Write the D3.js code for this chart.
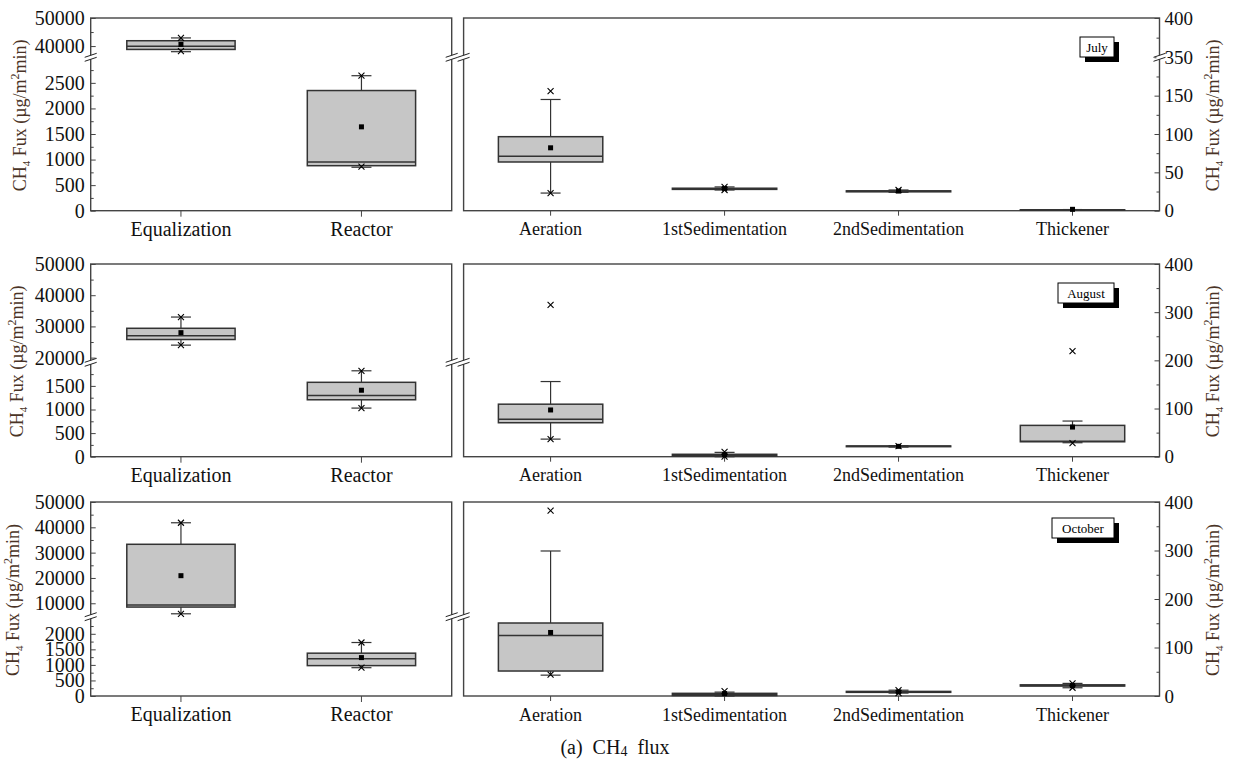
<!DOCTYPE html>
<html>
<head>
<meta charset="utf-8">
<script src="https://cdn.jsdelivr.net/npm/d3@7"></script>
<style>
  body { margin: 0; background: #fff; }
  svg { display: block; }
</style>
</head>
<body>
<script>
// categories
const months = ["July", "August", "October"];
const leftCats = ["Equalization", "Reactor"];
const rightCats = ["Aeration", "1stSedimentation", "2ndSedimentation", "Thickener"];

// box stats per category: [whisker low, q1, median, q3, whisker high, mean]
const julyLeft = [
  [38000, 38800, 39900, 41900, 42900, 40600],
  [850, 880, 950, 2350, 2640, 1640]
];
const julyRight = [
  [23, 63.5, 71, 96.5, 145, 82],
  [27, 27.8, 28.5, 29.3, 31, 29],
  [24, 24.6, 25.2, 25.9, 27, 25.6],
  [0.5, 0.8, 1, 1.2, 1.5, 1.8]
];
const augLeft = [
  [24000, 25800, 27000, 29400, 33000, 28000],
  [1030, 1206, 1296, 1576, 1820, 1408]
];
const augRight = [
  [36.5, 70.5, 77.5, 109, 156, 97],
  [0, 1, 3, 5, 9, 4],
  [20, 20.8, 21.5, 22.3, 23, 21.5],
  [29, 31, 32, 65, 74, 61.5]
];
const octLeft = [
  [5850, 8500, 9300, 33300, 41800, 20900],
  [910, 977, 1194, 1377, 1720, 1235]
];
const octRight = [
  [43, 51.5, 125, 150.5, 299, 131],
  [0, 1, 3, 5.5, 8, 5],
  [6, 7.5, 8.5, 9.5, 12, 8.5],
  [17, 20.5, 21.5, 23, 26, 21.5]
];

// x markers (1% / 99%)
const julyLeftX = [[42900, 38200], [2640, 860]];
const julyRightX = [[156, 23], [31, 27], [27], []];
const augLeftX = [[33000, 24000], [1820, 1030]];
const augRightX = [[315, 36.5], [10, 0], [22], [219, 28]];
const octLeftX = [[41800, 5850], [1720, 910]];
const octRightX = [[382, 44], [10], [12, 6], [26, 17]];

// broken axis domains
const julyLeftDomain = [0, 3000, 36000, 50000];
const augLeftDomain = [0, 2000, 18500, 50000];
const octLeftDomain = [0, 2550, 4700, 50000];
const julyRightDomain = [0, 200, 350, 400];
const augRightDomain = [0, 400];
const octRightDomain = [0, 400];

// tick values
const julyLeftTicks = [0, 500, 1000, 1500, 2000, 2500, 40000, 50000];
const julyLeftMinor = [250, 750, 1250, 1750, 2250, 2750, 45000];
const augLeftTicks = [0, 500, 1000, 1500, 20000, 30000, 40000, 50000];
const augLeftMinor = [250, 750, 1250, 1750, 25000, 35000, 45000];
const octLeftTicks = [0, 500, 1000, 1500, 2000, 10000, 20000, 30000, 40000, 50000];
const octLeftMinor = [250, 750, 1250, 1750, 2250, 15000, 25000, 35000, 45000];
const julyRightTicks = [0, 50, 100, 150, 350, 400];
const julyRightMinor = [25, 75, 125, 175, 375];
const augRightTicks = [0, 100, 200, 300, 400];
const augRightMinor = [50, 150, 250, 350];
const octRightTicks = [0, 100, 200, 300, 400];
const octRightMinor = [50, 150, 250, 350];

const W = 1240, H = 764;
const FRAME = "#444";
const TITLE_COLOR = "#4a3326";
const SERIF = "'Liberation Serif', 'Times New Roman', serif";

const svg = d3.select("body").append("svg")
  .attr("width", W)
  .attr("height", H)
  .style("font-family", SERIF);

// panel geometry
const leftX = [90.7, 451.7];
const rightX = [463.6, 1159.5];
const rows = [
  { top: 18, bottom: 210.7, brk: 57.3, labelTop: 37, rightBreak: true, titleX: 26 },
  { top: 264, bottom: 456.7, brk: 362.3, labelTop: 283, rightBreak: false, titleX: 23 },
  { top: 502, bottom: 696, brk: 616.7, labelTop: 518, rightBreak: false, titleX: 19 }
];
const labelW = { July: 34, August: 56, October: 62 };

const rowData = [
  { left: julyLeft, right: julyRight, lx: julyLeftX, rx: julyRightX,
    ld: julyLeftDomain, rd: julyRightDomain,
    lt: julyLeftTicks, lm: julyLeftMinor, rt: julyRightTicks, rm: julyRightMinor },
  { left: augLeft, right: augRight, lx: augLeftX, rx: augRightX,
    ld: augLeftDomain, rd: augRightDomain,
    lt: augLeftTicks, lm: augLeftMinor, rt: augRightTicks, rm: augRightMinor },
  { left: octLeft, right: octRight, lx: octLeftX, rx: octRightX,
    ld: octLeftDomain, rd: octRightDomain,
    lt: octLeftTicks, lm: octLeftMinor, rt: octRightTicks, rm: octRightMinor }
];

function brokenScale(domain, r) {
  if (domain.length === 2) {
    return d3.scaleLinear().domain(domain).range([r.bottom, r.top]);
  }
  return d3.scaleLinear().domain(domain).range([r.bottom, r.brk, r.brk, r.top]);
}

// tidy up an axis group: serif text, gray ticks, no domain path
function styleAxis(a, size) {
  a.attr("font-family", null).attr("font-size", null);
  a.select(".domain").remove();
  a.selectAll("line").attr("stroke", FRAME);
  a.selectAll("text").style("font-size", size).attr("fill", "#111");
}

function breakMark(g, x, y) {
  g.append("rect")
    .attr("x", x - 3).attr("y", y - 2)
    .attr("width", 6).attr("height", 4)
    .attr("fill", "#fff");
  [-2, 2].forEach(off => {
    g.append("line")
      .attr("x1", x - 6).attr("y1", y + off + 2)
      .attr("x2", x + 6).attr("y2", y + off - 2)
      .attr("stroke", "#222").attr("stroke-width", 1);
  });
}

function drawBoxes(g, x, y, stats, crosses) {
  const bw = x.bandwidth() * 0.6;
  const capW = 20;
  stats.forEach((s, i) => {
    const cx = x(x.domain()[i]) + x.bandwidth() / 2;
    const [lo, q1, med, q3, hi, mean] = s;
    const b = g.append("g");
    // whiskers
    b.append("line")
      .attr("x1", cx).attr("x2", cx)
      .attr("y1", y(hi)).attr("y2", y(q3))
      .attr("stroke", "#333").attr("stroke-width", 1.2);
    b.append("line")
      .attr("x1", cx).attr("x2", cx)
      .attr("y1", y(q1)).attr("y2", y(lo))
      .attr("stroke", "#333").attr("stroke-width", 1.2);
    [lo, hi].forEach(v => {
      b.append("line")
        .attr("x1", cx - capW / 2).attr("x2", cx + capW / 2)
        .attr("y1", y(v)).attr("y2", y(v))
        .attr("stroke", "#333").attr("stroke-width", 1.2);
    });
    // box
    b.append("rect")
      .attr("x", cx - bw / 2)
      .attr("y", y(q3))
      .attr("width", bw)
      .attr("height", Math.max(0, y(q1) - y(q3)))
      .attr("fill", "#c6c6c6")
      .attr("stroke", "#333")
      .attr("stroke-width", 1.5);
    b.append("line")
      .attr("x1", cx - bw / 2).attr("x2", cx + bw / 2)
      .attr("y1", y(med)).attr("y2", y(med))
      .attr("stroke", "#333").attr("stroke-width", 1.5);
    // mean
    b.append("rect")
      .attr("x", cx - 2.5).attr("y", y(mean) - 2.5)
      .attr("width", 5).attr("height", 5)
      .attr("fill", "#000");
    // crosses
    (crosses[i] || []).forEach(v => {
      const yy = y(v);
      b.append("path")
        .attr("d", `M${cx - 3},${yy - 3}L${cx + 3},${yy + 3}M${cx - 3},${yy + 3}L${cx + 3},${yy - 3}`)
        .attr("stroke", "#000").attr("stroke-width", 1.1);
    });
  });
}

function axisTitle(g, x, y) {
  const t = g.append("text")
    .attr("transform", `translate(${x},${y}) rotate(-90)`)
    .attr("text-anchor", "middle")
    .attr("fill", TITLE_COLOR)
    .style("font-size", "18px");
  t.append("tspan").text("CH");
  t.append("tspan").text("4").attr("dy", 4).style("font-size", "11px");
  t.append("tspan").text("\u00a0Fux (\u00b5g/m").attr("dy", -4);
  t.append("tspan").text("2").attr("dy", -7).style("font-size", "12px");
  t.append("tspan").text("min)").attr("dy", 7);
}

rows.forEach((r, ri) => {
  const d = rowData[ri];
  const g = svg.append("g");

  // ---- left panel ----
  const xl = d3.scaleBand().domain(leftCats).range(leftX).padding(0);
  const yl = brokenScale(d.ld, r);

  g.append("rect")
    .attr("x", leftX[0]).attr("y", r.top)
    .attr("width", leftX[1] - leftX[0]).attr("height", r.bottom - r.top)
    .attr("fill", "none").attr("stroke", FRAME).attr("stroke-width", 1.4);

  const la = g.append("g")
    .attr("transform", `translate(${leftX[0]},0)`)
    .call(d3.axisLeft(yl).tickValues(d.lt).tickSize(-5).tickPadding(6).tickFormat(d3.format("d")));
  styleAxis(la, "20px");

  const lm = g.append("g")
    .attr("transform", `translate(${leftX[0]},0)`)
    .call(d3.axisLeft(yl).tickValues(d.lm).tickSize(-3).tickFormat(""));
  styleAxis(lm, "10px");

  const lb = g.append("g")
    .attr("transform", `translate(0,${r.bottom})`)
    .call(d3.axisBottom(xl).tickSize(6).tickPadding(5));
  styleAxis(lb, "20px");

  drawBoxes(g, xl, yl, d.left, d.lx);

  // ---- right panel ----
  const xr = d3.scaleBand().domain(rightCats).range(rightX).padding(0);
  const yr = brokenScale(d.rd, r);

  g.append("rect")
    .attr("x", rightX[0]).attr("y", r.top)
    .attr("width", rightX[1] - rightX[0]).attr("height", r.bottom - r.top)
    .attr("fill", "none").attr("stroke", FRAME).attr("stroke-width", 1.4);

  const ra = g.append("g")
    .attr("transform", `translate(${rightX[1]},0)`)
    .call(d3.axisRight(yr).tickValues(d.rt).tickSize(-5).tickPadding(5).tickFormat(d3.format("d")));
  styleAxis(ra, "19px");

  const rm = g.append("g")
    .attr("transform", `translate(${rightX[1]},0)`)
    .call(d3.axisRight(yr).tickValues(d.rm).tickSize(-3).tickFormat(""));
  styleAxis(rm, "10px");

  const rb = g.append("g")
    .attr("transform", `translate(0,${r.bottom})`)
    .call(d3.axisBottom(xr).tickSize(5).tickPadding(7));
  styleAxis(rb, "18px");

  drawBoxes(g, xr, yr, d.right, d.rx);

  // break marks
  breakMark(g, leftX[0], r.brk);
  breakMark(g, leftX[1], r.brk);
  breakMark(g, rightX[0], r.brk);
  if (r.rightBreak) breakMark(g, rightX[1], r.brk);

  // axis titles
  axisTitle(g, r.titleX, (r.top + r.bottom) / 2 + 1);
  axisTitle(g, 1219, (r.top + r.bottom) / 2 + 1);

  // month label with shadow
  const m = months[ri];
  const lw = labelW[m];
  const lx = 1114 - lw;
  g.append("rect")
    .attr("x", lx + 5).attr("y", r.labelTop + 5)
    .attr("width", lw).attr("height", 20)
    .attr("fill", "#000");
  g.append("rect")
    .attr("x", lx).attr("y", r.labelTop)
    .attr("width", lw).attr("height", 20)
    .attr("fill", "#fff").attr("stroke", "#000").attr("stroke-width", 1);
  g.append("text")
    .attr("x", lx + lw / 2).attr("y", r.labelTop + 15)
    .attr("text-anchor", "middle")
    .style("font-size", "13px")
    .attr("fill", "#000")
    .text(m);
});

// caption
const cap = svg.append("text")
  .attr("x", 615).attr("y", 754)
  .attr("text-anchor", "middle")
  .style("font-size", "20px")
  .attr("fill", "#111");
cap.append("tspan").text("(a)\u00a0\u00a0CH");
cap.append("tspan").text("4").attr("dy", 2).style("font-size", "14px");
cap.append("tspan").text("\u00a0\u00a0flux").attr("dy", -2);
</script>
</body>
</html>
